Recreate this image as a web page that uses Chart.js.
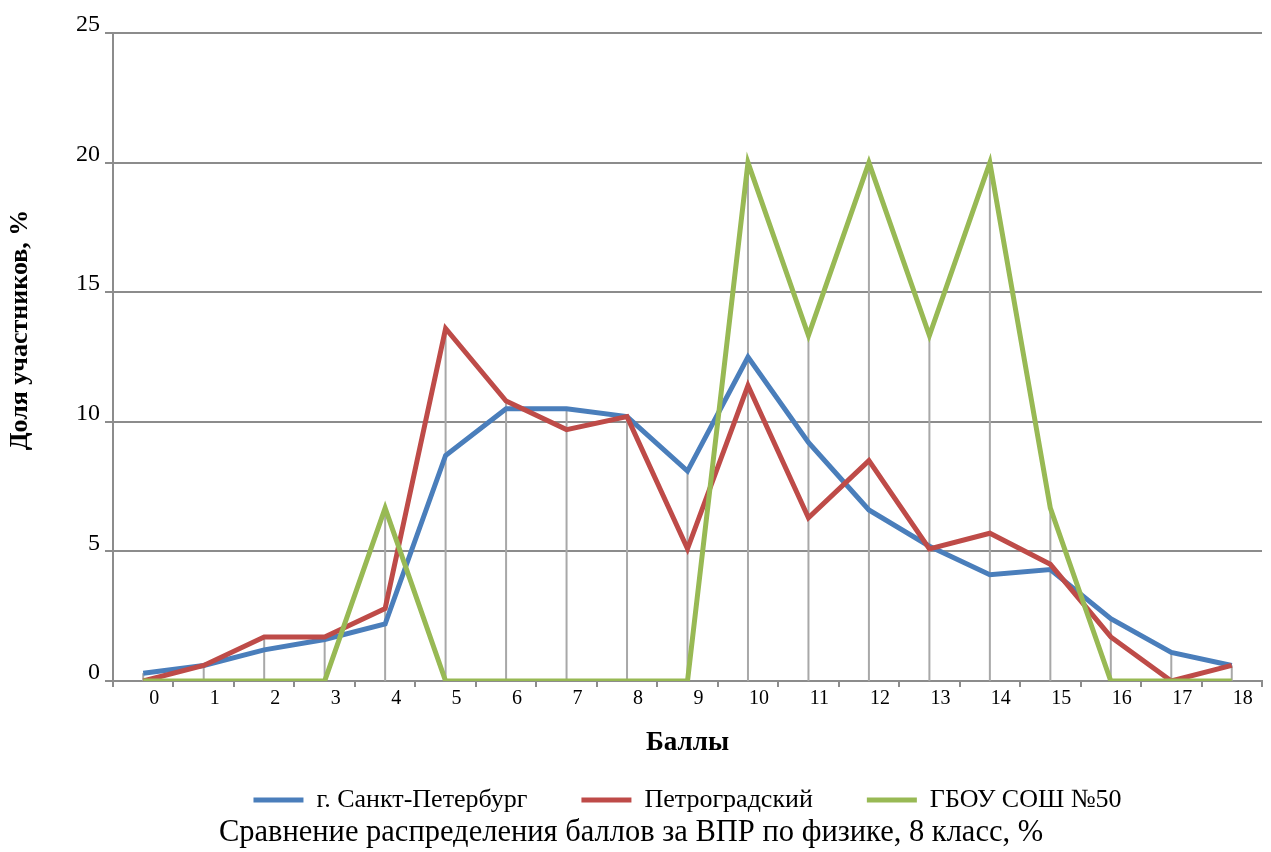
<!DOCTYPE html>
<html lang="ru">
<head>
<meta charset="utf-8">
<title>ВПР по физике, 8 класс</title>
<script src="https://cdn.jsdelivr.net/npm/chart.js@4.4.1/dist/chart.umd.min.js"></script>
<style>
  html, body { margin: 0; padding: 0; background: #fff; }
  #wrap { width: 1271px; height: 852px; }
</style>
</head>
<body>
<div id="wrap"><canvas id="vprChart" width="1271" height="852"></canvas></div>
<script>
/* Data */
const scores = ['0', '1', '2', '3', '4', '5', '6', '7', '8', '9', '10', '11', '12', '13', '14', '15', '16', '17', '18'];
const spbValues = [0.3, 0.6, 1.2, 1.6, 2.2, 8.7, 10.5, 10.5, 10.2, 8.1, 12.5, 9.2, 6.6, 5.2, 4.1, 4.3, 2.4, 1.1, 0.6];
const petroValues = [0, 0.6, 1.7, 1.7, 2.8, 13.6, 10.8, 9.7, 10.2, 5.1, 11.4, 6.3, 8.5, 5.1, 5.7, 4.5, 1.7, 0, 0.6];
const school50Values = [0, 0, 0, 0, 6.67, 0, 0, 0, 0, 0, 20, 13.33, 20, 13.33, 20, 6.67, 0, 0, 0];
const yTicks = [0, 5, 10, 15, 20, 25];
const yTitle = 'Доля участников, %';

const fontFamily = "'Liberation Serif', 'Times New Roman', serif";
Chart.defaults.font.family = fontFamily;
Chart.defaults.color = '#000';

const axisGray = '#8c8c8c';

/* Drop lines: from the highest point of each category down to the axis */
const dropLines = {
    id: 'dropLines',
    beforeDatasetsDraw(chart) {
        const { ctx, scales: { x, y } } = chart;
        ctx.save();
        ctx.strokeStyle = '#a8a8a8';
        ctx.lineWidth = 2;
        scores.forEach((s, i) => {
            const top = Math.max(...chart.data.datasets.map(d => d.data[i]));
            const px = x.getPixelForValue(i);
            ctx.beginPath();
            ctx.moveTo(px, y.getPixelForValue(top));
            ctx.lineTo(px, y.getPixelForValue(0));
            ctx.stroke();
        });
        ctx.restore();
    }
};

/* Y axis title, sitting a bit above the middle like the original */
const yAxisTitle = {
    id: 'yAxisTitle',
    afterDraw(chart) {
        const { ctx, chartArea } = chart;
        ctx.save();
        ctx.translate(20, (chartArea.top + chartArea.bottom) / 2 - 27);
        ctx.rotate(-Math.PI / 2);
        ctx.font = 'bold 26px ' + fontFamily;
        ctx.fillStyle = '#000';
        ctx.textAlign = 'center';
        ctx.textBaseline = 'middle';
        ctx.fillText(yTitle, 0, 0);
        ctx.restore();
    }
};

document.addEventListener('DOMContentLoaded', () => {
    const ctx = document.getElementById('vprChart');

    new Chart(ctx, {
        type: 'line',
        data: {
            labels: scores,
            datasets: [
                { label: 'г. Санкт-Петербург', data: spbValues, borderColor: '#4a7ebb', order: 3 },
                { label: 'Петроградский', data: petroValues, borderColor: '#be4b48', order: 2 },
                { label: 'ГБОУ СОШ №50', data: school50Values, borderColor: '#98b954', order: 1 }
            ]
        },
        options: {
            responsive: false,
            animation: false,
            layout: { padding: { top: 33, right: 9, left: 0, bottom: 0 } },
            elements: {
                line: { borderWidth: 5, tension: 0, borderJoinStyle: 'miter', fill: false },
                point: { radius: 0, hoverRadius: 0 }
            },
            plugins: {
                tooltip: { enabled: false },
                legend: {
                    position: 'bottom',
                    fullSize: false,
                    maxHeight: 81.4,
                    labels: {
                        boxWidth: 50,
                        boxHeight: 5,
                        padding: 54,
                        font: { size: 26 },
                        color: '#000',
                        generateLabels: chart => chart.data.datasets.map((ds, i) => ({
                            text: ds.label,
                            fillStyle: ds.borderColor,
                            strokeStyle: ds.borderColor,
                            lineWidth: 0,
                            hidden: false,
                            datasetIndex: i,
                            fontColor: '#000'
                        }))
                    }
                },
                title: {
                    display: true,
                    position: 'bottom',
                    text: 'Сравнение распределения баллов за ВПР по физике, 8 класс, %',
                    font: { size: 30.5, weight: 'normal' },
                    color: '#000',
                    padding: { top: 0, bottom: 1 }
                }
            },
            scales: {
                x: {
                    offset: true,
                    grid: { offset: true, drawOnChartArea: false, drawTicks: true, tickLength: 6, color: axisGray, lineWidth: 2 },
                    border: { color: axisGray, width: 2 },
                    ticks: { font: { size: 20 }, color: '#000', labelOffset: 11, padding: 0, maxRotation: 0, autoSkip: false },
                    title: {
                        display: true,
                        text: 'Баллы',
                        font: { size: 27, weight: 'bold' },
                        color: '#000',
                        padding: { top: 0, bottom: -26 }
                    },
                    afterFit: axis => { axis.height = 52; }
                },
                y: {
                    min: 0,
                    max: 25,
                    afterBuildTicks: axis => { axis.ticks = yTicks.map(v => ({ value: v })); },
                    grid: { color: axisGray, lineWidth: 2, tickLength: 8 },
                    border: { color: axisGray, width: 2 },
                    ticks: { font: { size: 24 }, color: '#000', padding: 5, labelOffset: -8 },
                    afterFit: axis => { axis.width = 113; }
                }
            }
        },
        plugins: [dropLines, yAxisTitle]
    });
});
</script>
</body>
</html>
